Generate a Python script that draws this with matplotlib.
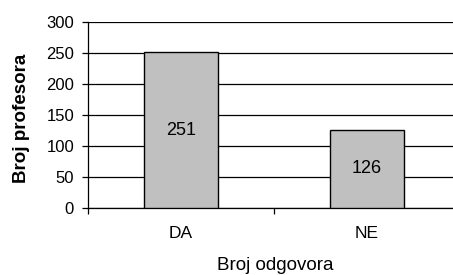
import numpy as np
import matplotlib.pyplot as plt
from matplotlib.ticker import FixedLocator

plt.rcParams['font.family'] = ['Liberation Sans', 'DejaVu Sans']

categories = ['DA', 'NE']
counts = [251, 126]
yticks = [0, 50, 100, 150, 200, 250, 300]

fig = plt.figure(figsize=(4.53, 2.75), dpi=100)
ax = fig.add_axes([88 / 453, 1 - 208 / 275, 372 / 453, 186 / 275])

x = np.arange(len(categories))
bars = ax.bar(x, counts, width=0.4, color='#c0c0c0', edgecolor='black', linewidth=1, zorder=3)
for b, v in zip(bars, counts):
    ax.text(b.get_x() + b.get_width() / 2, v / 2, str(v), ha='center', va='center',
            fontsize=13, zorder=4)

ax.set_xlim(-0.5, 1.5)
ax.set_ylim(0, 300)
ax.set_yticks(yticks)
ax.yaxis.grid(True, color='black', linewidth=0.9)
ax.set_axisbelow(True)

ax.set_xticks(x)
ax.set_xticklabels(categories, fontsize=12.5)
ax.tick_params(axis='x', which='major', length=0, pad=13)
ax.xaxis.set_minor_locator(FixedLocator([-0.5, 0.5, 1.5]))
ax.tick_params(axis='x', which='minor', length=4, width=0.9, direction='out')
ax.tick_params(axis='y', labelsize=12, length=4, width=0.9, pad=6)

for s in ['top', 'right']:
    ax.spines[s].set_visible(False)
ax.spines['left'].set_linewidth(0.9)
ax.spines['bottom'].set_linewidth(0.9)

fig.text(22 / 453, 1 - 118 / 275, 'Broj profesora', rotation=90, ha='center', va='center',
         fontsize=13.5, fontweight='bold')
fig.text(275 / 453, 1 / 275, 'Broj odgovora', ha='center', va='bottom', fontsize=13.5)

fig.savefig('out.png', dpi=100)
